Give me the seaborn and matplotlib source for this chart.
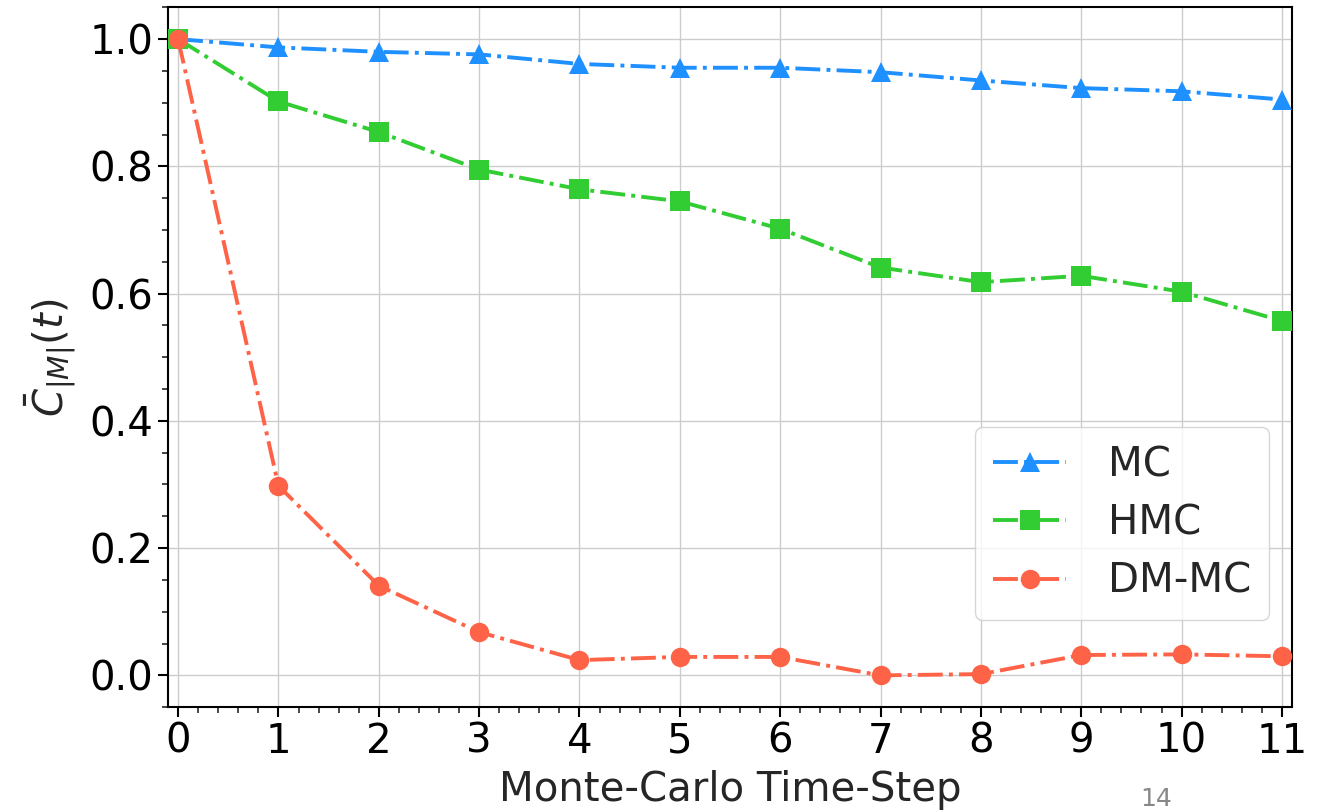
import pandas as pd
import matplotlib.pyplot as plt
import seaborn as sns
from matplotlib.ticker import MultipleLocator

sns.set_style("white")
plt.rcParams['font.family'] = ['DejaVu Sans']

steps = list(range(12))
mc = [1.0, 0.987, 0.980, 0.976, 0.961, 0.955, 0.955, 0.948, 0.935, 0.923, 0.918, 0.905]
hmc = [1.0, 0.902, 0.854, 0.795, 0.764, 0.745, 0.702, 0.641, 0.618, 0.628, 0.603, 0.557]
dmmc = [1.0, 0.298, 0.141, 0.068, 0.024, 0.029, 0.029, 0.0, 0.002, 0.032, 0.033, 0.030]

series = [
    ("MC", mc, "#1E90FF", "^"),
    ("HMC", hmc, "#32CD32", "s"),
    ("DM-MC", dmmc, "#FF6347", "o"),
]

fig = plt.figure(figsize=(13.17, 8.11), dpi=100)
ax = fig.add_axes([0.1276, 0.128, 0.8534, 0.863])

for name, vals, color, marker in series:
    df = pd.DataFrame({"step": steps, "val": vals})
    sns.lineplot(data=df, x="step", y="val", ax=ax, color=color, marker=marker,
                 linestyle="-.", linewidth=2.8, markersize=14, markeredgewidth=0,
                 label=name, zorder=3)

ax.set_xlim(-0.1, 11.1)
ax.set_ylim(-0.05, 1.05)
ax.set_xticks(steps)
ax.xaxis.set_minor_locator(MultipleLocator(0.2))
ax.yaxis.set_minor_locator(MultipleLocator(0.05))
ax.grid(True, which="major", color="#cccccc", linewidth=1)
ax.tick_params(axis="both", which="major", labelsize=29, length=7, width=1.5,
               direction="out", bottom=True, left=True, colors="black")
ax.tick_params(axis="both", which="minor", length=4, width=1.2,
               bottom=True, left=True)
for s in ax.spines.values():
    s.set_color("black")
    s.set_linewidth(1.5)

ax.set_xlabel("Monte-Carlo Time-Step", fontsize=29, labelpad=6)
ax.set_ylabel(r"$\bar{C}_{|M|}(t)$", fontsize=29, labelpad=8)

leg = ax.legend(loc="upper right", bbox_to_anchor=(0.98, 0.4), borderaxespad=0,
                fontsize=29, handlelength=1.8, handletextpad=1.05,
                frameon=True, fancybox=True, edgecolor="#cccccc",
                borderpad=0.45, labelspacing=0.45)

fig.text(0.878, 0.0, "14", fontsize=18, color="#888888", ha="center", va="bottom")

fig.savefig("out.png", dpi=100)
